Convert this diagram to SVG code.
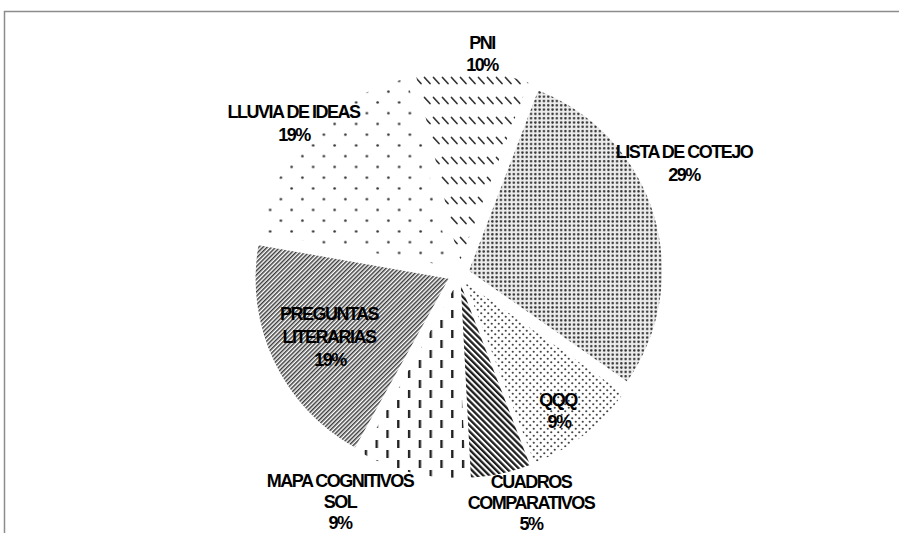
<svg xmlns="http://www.w3.org/2000/svg" width="899" height="533" viewBox="0 0 899 533">
<style>
  .lbl { font-family: "Liberation Sans", Arial, sans-serif; font-weight: bold; font-size: 18px; letter-spacing: -1.5px; fill: #000; text-anchor: middle; }
  .frame { fill: none; stroke: #8c8c8c; stroke-width: 1.5; }
</style>
<defs>
  <pattern id="pPNI" patternUnits="userSpaceOnUse" width="9" height="20" x="0" y="76">
    <path d="M1.5,1.5 L7,7.5" stroke="#333" stroke-width="1.7" stroke-linecap="round"/>
  </pattern>
  <pattern id="pLISTA" patternUnits="userSpaceOnUse" width="4.3" height="4.3">
    <rect width="4.3" height="4.3" fill="#ececec"/>
    <circle cx="2.15" cy="2.15" r="1.25" fill="#333"/>
  </pattern>
  <pattern id="pQQQ" patternUnits="userSpaceOnUse" width="7" height="7">
    <circle cx="1.75" cy="1.75" r="1.1" fill="#444"/>
    <circle cx="5.25" cy="5.25" r="1.1" fill="#444"/>
  </pattern>
  <pattern id="pCUAD" patternUnits="userSpaceOnUse" width="4.3" height="20" patternTransform="rotate(-45)">
    <rect width="2.3" height="20" fill="#1e1e1e"/>
  </pattern>
  <pattern id="pMAPA" patternUnits="userSpaceOnUse" width="21.6" height="20" x="375.5" y="0">
    <rect x="0" y="0" width="2.4" height="8" fill="#222"/>
    <rect x="10.8" y="10" width="2.4" height="8" fill="#222"/>
  </pattern>
  <pattern id="pPREG" patternUnits="userSpaceOnUse" width="3" height="20" patternTransform="rotate(45)">
    <rect width="1.5" height="20" fill="#3c3c3c"/>
  </pattern>
  <pattern id="pLLUV" patternUnits="userSpaceOnUse" width="21.5" height="21.5" x="383" y="86.3">
    <circle cx="5.4" cy="5.4" r="1.3" fill="#333"/>
    <circle cx="16.15" cy="16.15" r="1.3" fill="#333"/>
  </pattern>
</defs>

<rect class="frame" x="4.5" y="11.5" width="1000" height="600"/>

<g id="slice-pni">
  <path d="M459.27,263.03 L415.85,74.97 A193,193 0 0 1 528.44,82.85 Z" fill="url(#pPNI)"/>
  <text class="lbl" x="482" y="49">PNI</text>
  <text class="lbl" x="482" y="71">10%</text>
</g>

<g id="slice-lista">
  <path d="M469.02,270.78 L538.19,90.60 A193,193 0 0 1 627.12,381.48 Z" fill="url(#pLISTA)"/>
  <text class="lbl" x="684" y="158">LISTA DE COTEJO</text>
  <text class="lbl" x="684" y="181">29%</text>
</g>

<g id="slice-qqq">
  <path d="M465.27,282.67 L623.37,393.37 A193,193 0 0 1 534.44,462.85 Z" fill="url(#pQQQ)"/>
  <text class="lbl" x="558" y="406">QQQ</text>
  <text class="lbl" x="559" y="428">9%</text>
</g>

<g id="slice-cuadros">
  <path d="M460.79,284.76 L529.96,464.94 A193,193 0 0 1 470.89,477.50 Z" fill="url(#pCUAD)"/>
  <text class="lbl" x="531" y="488">CUADROS</text>
  <text class="lbl" x="531" y="509">COMPARATIVOS</text>
  <text class="lbl" x="531" y="530">5%</text>
</g>

<g id="slice-mapa">
  <path d="M456.03,284.72 L466.13,477.46 A193,193 0 0 1 362.46,453.52 Z" fill="url(#pMAPA)"/>
  <text class="lbl" x="340" y="487">MAPA COGNITIVOS</text>
  <text class="lbl" x="340" y="508">SOL</text>
  <text class="lbl" x="340" y="529">9%</text>
</g>

<g id="slice-preguntas">
  <path d="M448.57,278.74 L355.00,447.54 A193,193 0 0 1 258.50,245.23 Z" fill="url(#pPREG)"/>
  <text class="lbl" x="329" y="320">PREGUNTAS</text>
  <text class="lbl" x="329" y="343">LITERARIAS</text>
  <text class="lbl" x="330" y="366">19%</text>
</g>

<g id="slice-lluvia">
  <path d="M450.52,266.43 L260.45,232.92 A193,193 0 0 1 407.10,78.37 Z" fill="url(#pLLUV)"/>
  <text class="lbl" x="293.5" y="118">LLUVIA DE IDEAS</text>
  <text class="lbl" x="294" y="141">19%</text>
</g>

<g id="connectors"></g>
</svg>
